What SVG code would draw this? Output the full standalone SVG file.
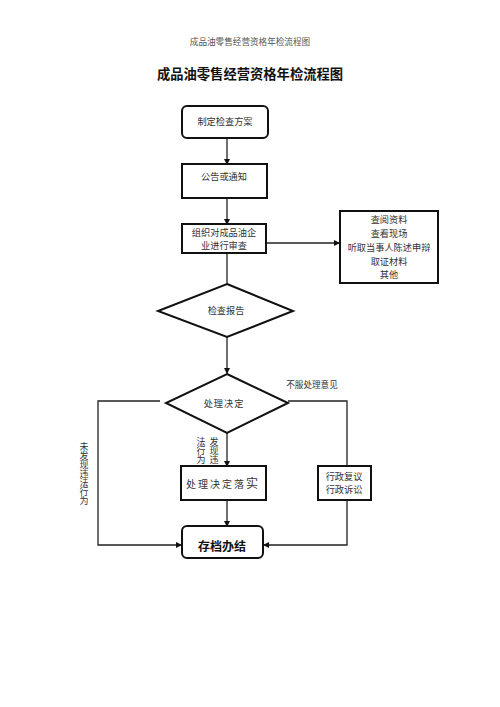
<svg xmlns="http://www.w3.org/2000/svg" width="500" height="707" viewBox="0 0 500 707">
<style>
.t{font-family:"Liberation Serif","Noto Sans CJK SC",serif;font-size:9.2px;fill:#333;text-anchor:middle;dominant-baseline:central}
.box{fill:#fff;stroke:#111;stroke-width:2}
.ln{fill:none;stroke:#222;stroke-width:1.3}
</style>
<defs>
<marker id="ah" markerWidth="6" markerHeight="6" refX="5" refY="3" orient="auto" markerUnits="userSpaceOnUse">
<path d="M0,0 L6,3 L0,6 Z" fill="#111"/>
</marker>
</defs>
<rect width="500" height="707" fill="#fff"/>
<text class="t" x="250" y="42" style="font-size:8.6px;fill:#555">成品油零售经营资格年检流程图</text>
<text x="250" y="73" style="font-family:'Noto Sans CJK SC',sans-serif;font-size:13.3px;font-weight:bold;fill:#111;text-anchor:middle;dominant-baseline:central">成品油零售经营资格年检流程图</text>

<g id="connectors">
<line class="ln" x1="227" y1="138" x2="227" y2="164" marker-end="url(#ah)"/>
<line class="ln" x1="227" y1="198" x2="227" y2="224" marker-end="url(#ah)"/>
<line class="ln" x1="266" y1="243" x2="339" y2="243" marker-end="url(#ah)"/>
<line class="ln" x1="227" y1="253" x2="227" y2="284"/>
<line class="ln" x1="227" y1="337" x2="227" y2="373" marker-end="url(#ah)"/>
<line class="ln" x1="227" y1="433" x2="227" y2="466" marker-end="url(#ah)"/>
<line class="ln" x1="227" y1="500" x2="227" y2="526" marker-end="url(#ah)"/>
<polyline class="ln" points="160,401 98,401 98,545 181,545" marker-end="url(#ah)"/>
<polyline class="ln" points="288,401 347,401 347,466"/>
<polyline class="ln" points="347,500 347,545 264,545" marker-end="url(#ah)"/>
<text class="t" x="312" y="385" style="font-size:8.6px">不服处理意见</text>
<g class="t" style="font-size:9px">
<text class="t" x="214" y="442" style="font-size:9px">发</text>
<text class="t" x="214" y="451" style="font-size:9px">现</text>
<text class="t" x="214" y="460" style="font-size:9px">违</text>
<text class="t" x="201" y="442" style="font-size:9px">法</text>
<text class="t" x="201" y="451" style="font-size:9px">行</text>
<text class="t" x="201" y="460" style="font-size:9px">为</text>
</g>
<text class="t" x="84" y="447" style="font-size:9px">未</text>
<text class="t" x="84" y="456" style="font-size:9px">发</text>
<text class="t" x="84" y="465" style="font-size:9px">现</text>
<text class="t" x="84" y="474" style="font-size:9px">违</text>
<text class="t" x="84" y="483" style="font-size:9px">法</text>
<text class="t" x="84" y="492" style="font-size:9px">行</text>
<text class="t" x="84" y="501" style="font-size:9px">为</text>
</g>

<g id="n1">
<rect class="box" x="182" y="106" width="86" height="32" rx="5"/>
<text class="t" x="225" y="122">制定检查方案</text>
</g>
<g id="n2">
<rect class="box" x="182" y="164" width="85" height="34"/>
<text class="t" x="224" y="177">公告或通知</text>
</g>
<g id="n3">
<rect class="box" x="182" y="224" width="84" height="29"/>
<text class="t" x="224" y="233">组织对成品油企</text>
<text class="t" x="224" y="246">业进行审查</text>
</g>
<g id="n4">
<rect class="box" x="340" y="211" width="98" height="72"/>
<text class="t" x="389" y="220">查阅资料</text>
<text class="t" x="389" y="234">查看现场</text>
<text class="t" x="389" y="248">听取当事人陈述申辩</text>
<text class="t" x="389" y="262">取证材料</text>
<text class="t" x="389" y="275">其他</text>
</g>
<g id="n5">
<polygon class="box" points="227,284 293,311 227,337 158,311"/>
<text class="t" x="226" y="311">检查报告</text>
</g>
<g id="n6">
<polygon class="box" points="227,374 288,403 227,433 166,403"/>
<text class="t" x="224" y="404" style="letter-spacing:1px">处理决定</text>
</g>
<g id="n7">
<rect class="box" x="181" y="466" width="85" height="34"/>
<text class="t" x="223" y="484" style="font-size:10px;letter-spacing:2px">处理决定落<tspan style="font-size:12px">实</tspan></text>
</g>
<g id="n8">
<rect class="box" x="318" y="466" width="53" height="34"/>
<text class="t" x="344" y="477">行政复议</text>
<text class="t" x="344" y="490">行政诉讼</text>
</g>
<g id="n9">
<rect class="box" x="182" y="526" width="81" height="32" rx="5"/>
<text x="222" y="545" style="font-family:'Noto Sans CJK SC',sans-serif;font-size:12px;font-weight:bold;fill:#111;text-anchor:middle;dominant-baseline:central">存档办结</text>
</g>
</svg>
